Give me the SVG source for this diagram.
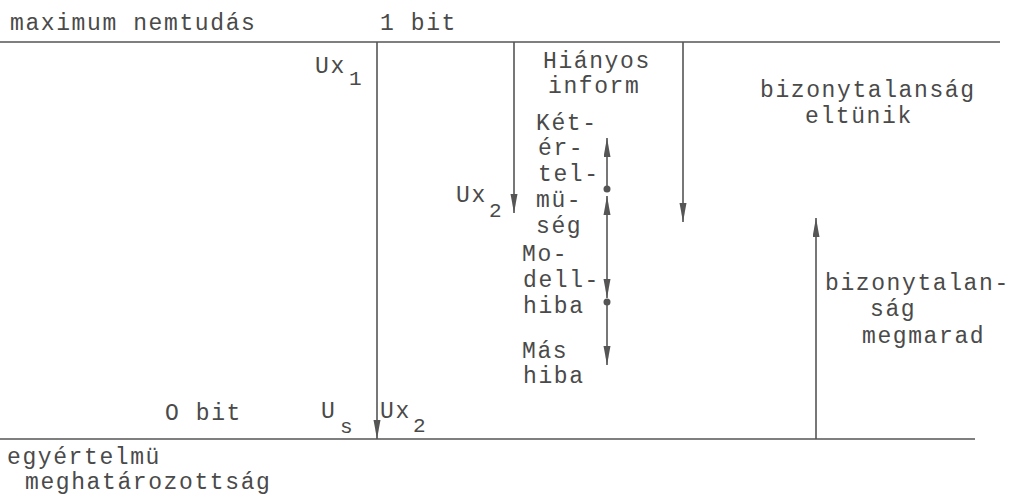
<svg xmlns="http://www.w3.org/2000/svg" width="1010" height="504" viewBox="0 0 1010 504">
  <style>
    .t { font-family: "Liberation Mono", "DejaVu Sans Mono", monospace; font-size: 23px; letter-spacing: 1.6px; fill: #4a4a4a; }
    .sub { font-size: 21px; }
    .ln { stroke: #555; stroke-width: 1.6; fill: none; }
    .ar { stroke: #555; stroke-width: 1.6; fill: none; marker-end: url(#head); }
    .ar2 { stroke: #555; stroke-width: 1.6; fill: none; marker-start: url(#headStart); marker-end: url(#head); }
    .dot { fill: #555; }
  </style>
  <defs>
    <marker id="head" markerUnits="userSpaceOnUse" markerWidth="20" markerHeight="8" refX="19" refY="3.5" orient="auto">
      <path d="M0,0 L19,3.5 L0,7 Z" fill="#555"/>
    </marker>
    <marker id="headStart" markerUnits="userSpaceOnUse" markerWidth="20" markerHeight="8" refX="0" refY="3.5" orient="auto">
      <path d="M19,0 L0,3.5 L19,7 Z" fill="#555"/>
    </marker>
  </defs>
  <rect width="1010" height="504" fill="#ffffff"/>

  <!-- scale boundaries -->
  <g id="scale">
    <line class="ln" x1="0" y1="42" x2="1000" y2="42"/>
    <line class="ln" x1="0" y1="439" x2="975" y2="439"/>
    <text class="t" x="10" y="30">maximum nemtudás</text>
    <text class="t" x="380" y="30">1 bit</text>
    <text class="t" x="165" y="420">O bit</text>
    <text class="t" x="7" y="464">egyértelmü</text>
    <text class="t" x="25" y="489">meghatározottság</text>
  </g>

  <!-- connectors -->
  <g id="connectors">
    <line class="ar" x1="377" y1="42" x2="377" y2="439"/>
    <line class="ar" x1="514" y1="42" x2="514" y2="213"/>
    <line class="ar" x1="683" y1="42" x2="683" y2="222"/>
    <line class="ar" x1="816" y1="439" x2="816" y2="218"/>
    <line class="ar" x1="607" y1="189" x2="607" y2="138"/>
    <line class="ar2" x1="607" y1="196" x2="607" y2="298"/>
    <line class="ar" x1="607" y1="302" x2="607" y2="365"/>
    <circle class="dot" cx="607" cy="189" r="3.5"/>
    <circle class="dot" cx="607" cy="302" r="3.5"/>
  </g>

  <g id="ux1">
    <text class="t" x="315" y="73">Ux</text>
    <text class="t sub" x="349" y="85">1</text>
  </g>

  <g id="us">
    <text class="t" x="321" y="418">U</text>
    <text class="t sub" x="340" y="433">s</text>
  </g>

  <g id="ux2-bottom">
    <text class="t" x="380" y="418">Ux</text>
    <text class="t sub" x="413" y="432">2</text>
  </g>

  <g id="ux2-mid">
    <text class="t" x="456" y="202">Ux</text>
    <text class="t sub" x="489" y="217">2</text>
  </g>

  <g id="hianyos">
    <text class="t" x="543" y="68">Hiányos</text>
    <text class="t" x="548" y="93">inform</text>
  </g>

  <g id="ketertelmuseg">
    <text class="t" x="536" y="130">Két-</text>
    <text class="t" x="538" y="155">ér-</text>
    <text class="t" x="538" y="181">tel-</text>
    <text class="t" x="536" y="207">mü-</text>
    <text class="t" x="536" y="233">ség</text>
  </g>

  <g id="modellhiba">
    <text class="t" x="522" y="261">Mo-</text>
    <text class="t" x="523" y="287">dell-</text>
    <text class="t" x="523" y="313">hiba</text>
  </g>

  <g id="mashiba">
    <text class="t" x="522" y="358">Más</text>
    <text class="t" x="523" y="383">hiba</text>
  </g>

  <g id="eltunik">
    <text class="t" x="760" y="97">bizonytalanság</text>
    <text class="t" x="805" y="123">eltünik</text>
  </g>

  <g id="megmarad">
    <text class="t" x="825" y="290">bizonytalan-</text>
    <text class="t" x="870" y="316">ság</text>
    <text class="t" x="862" y="343">megmarad</text>
  </g>
</svg>
